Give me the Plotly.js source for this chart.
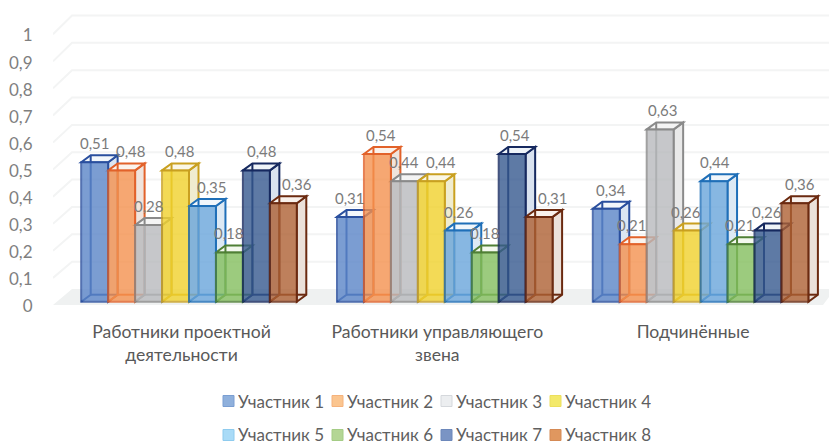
<!DOCTYPE html>
<html>
<head>
<meta charset="utf-8">
<script src="https://cdn.plot.ly/plotly-3.0.1.min.js"></script>
<style>html,body{margin:0;padding:0;background:#fff;overflow:hidden}</style>
</head>
<body>
<div id="chart" style="width:829px;height:444px"></div>
<script>
const categories = ['Работники проектной<br>деятельности', 'Работники управляющего<br>звена', 'Подчинённые'];
const seriesNames = ['Участник 1','Участник 2','Участник 3','Участник 4','Участник 5','Участник 6','Участник 7','Участник 8'];
const s1 = [0.51, 0.31, 0.34];
const s2 = [0.48, 0.54, 0.21];
const s3 = [0.28, 0.44, 0.63];
const s4 = [0.48, 0.44, 0.26];
const s5 = [0.35, 0.26, 0.44];
const s6 = [0.18, 0.18, 0.21];
const s7 = [0.48, 0.54, 0.26];
const s8 = [0.36, 0.31, 0.36];
const seriesValues = [s1,s2,s3,s4,s5,s6,s7,s8];
const yTickVals = [0,0.1,0.2,0.3,0.4,0.5,0.6,0.7,0.8,0.9,1];
const yTickText = ['0','0,1','0,2','0,3','0,4','0,5','0,6','0,7','0,8','0,9','1'];

// styling
const frontColors = ['#5b85c8','#f5924f','#b8babd','#f1d22c','#6aa6dc','#84bf5e','#36598f','#ae6134'];
const edgeColors  = ['#2a4f9e','#e2622a','#8a8a8a','#c9a020','#1f6fb8','#4f7f35','#16295f','#6b2a10'];
const sideColors  = ['#dbe6f2','#f0e4dc','#e9e9e9','#f0ecd0','#dde9f4','#e6efdf','#d9e2ef','#ebe1da'];
const topColors   = ['#f3f7fb','#fbf3ec','#f4f4f4','#faf7e6','#f1f6fb','#f3f8ee','#eef3f8','#f8f1ec'];
const swatchFill  = ['#8fb0dc','#fbc58f','#eceef0','#f3e96a','#a9dbf7','#b4d695','#7a94c4','#e0975f'];
const swatchEdge  = ['#7a9ed2','#f5b27c','#d5d8dc','#ecdf5c','#8ecbee','#a4cc85','#6d88bb','#d58a55'];
// horizontal nudges of the data labels, px, per series per category
const labelNudge = [[0,0,5],[9,4,-1],[0,0,3],[4,10,-1],[10,1,1],[0,0,-1],[6,3,-1],[14,14,5]];

const PITCH = 255.8, PXY = 273.5;
const barW = 26.95 / PITCH;
const dx = 9.5 / PITCH, dy = 7 / PXY;
const xRange = [(53-189)/PITCH, (829-189)/PITCH];
const yRange = [-8.3/PXY, 291.7/PXY];
// the tick labels sit on their own scale: 271 px per unit, centred 7.5 px left of the groups
const xLabelRange = [(53-189+7.5)/PITCH, (829-189+7.5)/PITCH];
const yLabelRange = [-3.5/271, 296.5/271];

const wallFront = v => v*0.99 - 0.012;
const wallBack = v => v + 0.0465;
const xWallF = xRange[0], xWallB = (72-189)/PITCH, xRight = xRange[1];

function poly(pts){ return 'M' + pts.map(p => p[0]+','+p[1]).join('L') + 'Z'; }
function open(pts){ return 'M' + pts.map(p => p[0]+','+p[1]).join('L'); }

const shapes = [];
// floor
shapes.push({type:'path', layer:'below', xref:'x', yref:'y', line:{width:0}, fillcolor:'#eff1f1',
  path: poly([[xWallF,wallFront(0)],[xWallB,wallBack(0)],[xRight,wallBack(0)],[xRight,wallBack(0)-8/PXY],[xRight-6/PITCH,wallFront(0)]])});
// walls
yTickVals.forEach(v => {
  if (v === 0) return;
  shapes.push({type:'path', layer:'below', xref:'x', yref:'y', line:{color:'#f3f4f4', width:2},
    path: open([[xWallF,wallFront(v)],[xWallB,wallBack(v)],[xRight,wallBack(v)]])});
});
// boxes behind the front faces
seriesValues.forEach((vals,i) => {
  vals.forEach((v,c) => {
    const xl = c + (i-4)*barW, xr = xl + barW;
    const ln = {color:edgeColors[i], width:2};
    shapes.push({type:'path', layer:'below', xref:'x', yref:'y', fillcolor:sideColors[i], line:ln,
      path: poly([[xr,0],[xr+dx,dy],[xr+dx,v+dy],[xr,v]])});
    shapes.push({type:'path', layer:'below', xref:'x', yref:'y', fillcolor:topColors[i], line:ln,
      path: poly([[xl,v],[xl+dx,v+dy],[xr+dx,v+dy],[xr,v]])});
    shapes.push({type:'path', layer:'below', xref:'x', yref:'y', line:ln,
      path: open([[xl,0],[xl+dx,dy],[xl+dx,v+dy]])});
    shapes.push({type:'path', layer:'below', xref:'x', yref:'y', line:ln,
      path: open([[xl+dx,dy],[xr+dx,dy]])});
  });
});

const traces = seriesNames.map((n,i) => ({
  type:'bar', name:n, x:categories, y:seriesValues[i],
  marker:{color:frontColors[i], opacity:0.8, line:{color:edgeColors[i], width:2}},
  hoverinfo:'name+y', showlegend:false
}));
// carries the axes that draw the tick labels
traces.push({type:'scatter', mode:'none', x:categories, y:[0,0,0], xaxis:'x2', yaxis:'y2', hoverinfo:'skip', showlegend:false});

const annotations = [];
seriesValues.forEach((vals,i) => vals.forEach((v,c) => {
  annotations.push({xref:'x', yref:'y', x:c+(i-3.5)*barW, y:v, text:v.toFixed(2).replace('.',','),
    showarrow:false, xanchor:'center', yanchor:'middle', xshift:labelNudge[i][c], yshift:19,
    font:{family:'Lato', size:15, color:'#7b7b7b'}});
}));

// legend, two rows of four
const W = 829, H = 444;
seriesNames.forEach((n,i) => {
  const col = i%4, row = Math.floor(i/4);
  const sx = 223 + col*109, cy = row === 0 ? 401 : 435, ty = row === 0 ? 401 : 433.5;
  shapes.push({type:'rect', xref:'paper', yref:'paper', layer:'above',
    x0:(sx-53)/776, x1:(sx+11-53)/776, y0:(310-(cy+5.5))/300, y1:(310-(cy-5.5))/300,
    fillcolor:swatchFill[i], line:{color:swatchEdge[i], width:1}});
  annotations.push({xref:'paper', yref:'paper', x:(sx+14-53)/776, y:(310-ty)/300, text:n,
    showarrow:false, xanchor:'left', yanchor:'middle', height:16, borderpad:0, valign:'middle',
    font:{family:'Lato', size:17, color:'#5f5f5f'}});
});

const layout = {
  width:W, height:H, margin:{l:53, r:0, t:10, b:134},
  paper_bgcolor:'#fff', plot_bgcolor:'#fff',
  barmode:'group', bargap:1-8*barW, bargroupgap:0, showlegend:false,
  font:{family:'Lato', size:16, color:'#595959'},
  xaxis:{type:'category', categoryorder:'array', categoryarray:categories, range:xRange, autorange:false,
    showgrid:false, zeroline:false, showline:false, ticks:'', showticklabels:false},
  yaxis:{range:yRange, autorange:false, showgrid:false, zeroline:false, showline:false, ticks:'', showticklabels:false},
  xaxis2:{type:'category', categoryorder:'array', categoryarray:categories, range:xLabelRange, autorange:false,
    overlaying:'x', anchor:'y2', side:'bottom',
    showgrid:false, zeroline:false, showline:false, ticks:'outside', ticklen:6, tickcolor:'rgba(0,0,0,0)',
    tickangle:0, tickfont:{family:'Lato', size:17.6, color:'#595959'}},
  yaxis2:{range:yLabelRange, autorange:false, overlaying:'y', anchor:'x2', side:'left',
    showgrid:false, zeroline:false, showline:false,
    tickmode:'array', tickvals:yTickVals, ticktext:yTickText, ticks:'outside', ticklen:16, tickcolor:'rgba(0,0,0,0)',
    tickfont:{family:'Lato', size:17, color:'#7f7f7f'}},
  shapes, annotations
};
Plotly.newPlot('chart', traces, layout, {displayModeBar:false});
</script>
</body>
</html>
